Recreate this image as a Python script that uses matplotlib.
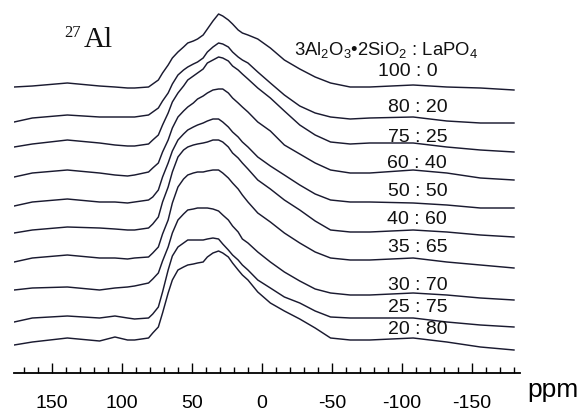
import numpy as np
import matplotlib
matplotlib.use('Agg')
from matplotlib import pyplot as plt
from matplotlib.ticker import MultipleLocator

plt.rcParams['axes.unicode_minus'] = False
plt.rcParams['mathtext.fontset'] = 'custom'
plt.rcParams['mathtext.rm'] = 'Liberation Sans'
plt.rcParams['mathtext.it'] = 'Liberation Sans'

# chemical shift grid (ppm)
ppm = [177, 164, 139, 116, 105, 96, 91,
       81, 78, 74, 71, 67, 64, 60, 56, 53, 49,
       46, 42, 39, 35, 31, 28, 24, 21, 17, 14,
       10, 3, -6, -16, -27, -38, -49, -63, -77,
       -108, -132, -156, -180]

# intensities above each trace's baseline, top trace first
s_100_0 = [1, 2, 5, 2, 1, 0, 0,
           1, 4, 8, 15, 23, 30, 36, 41, 45, 47,
           49, 53, 59, 67, 74, 72, 68, 64, 58, 55,
           53, 49, 40, 28, 19, 11, 5, 1, 1,
           3, 1, 0, -2]
s_80_20 = [-1, 3, 6, 4, 4, 4, 4,
           6, 9, 13, 20, 28, 37, 46, 51, 54, 57,
           59, 63, 69, 74, 78, 77, 74, 69, 64, 61,
           58, 49, 38, 26, 15, 8, 4, 2, 3,
           4, 0, -2, -2]
s_75_25 = [0, 3, 7, 4, 2, 1, 1,
           3, 7, 12, 22, 34, 45, 54, 61, 67, 71,
           74, 78, 84, 87, 90, 89, 86, 81, 77, 73,
           68, 59, 49, 36, 22, 12, 5, 3, 4,
           4, 0, -3, -5]
s_60_40 = [0, 4, 7, 4, 2, 1, 2,
           5, 9, 14, 25, 37, 49, 60, 66, 70, 74,
           78, 81, 84, 87, 88, 88, 84, 79, 74, 70,
           65, 55, 46, 32, 23, 14, 7, 4, 4,
           7, 4, -1, -3]
s_50_50 = [0, 4, 7, 4, 4, 3, 4,
           6, 9, 16, 29, 43, 55, 66, 72, 76, 79,
           81, 83, 85, 87, 87, 84, 79, 74, 69, 64,
           59, 49, 40, 31, 21, 12, 6, 4, 4,
           3, 1, -2, -2]
s_40_60 = [0, 3, 6, 5, 4, 3, 3,
           5, 9, 16, 31, 46, 61, 76, 83, 86, 88,
           89, 90, 91, 93, 93, 91, 86, 80, 75, 70,
           64, 53, 44, 33, 23, 12, 3, 1, 1,
           3, 1, -2, -4]
s_35_65 = [0, 4, 7, 4, 4, 3, 4,
           5, 9, 15, 28, 42, 59, 75, 83, 87, 89,
           90, 90, 91, 92, 92, 89, 84, 79, 73, 67,
           60, 49, 40, 29, 19, 10, 4, 2, 2,
           4, 0, -3, -6]
s_30_70 = [0, 2, 3, 0, 2, 3, 4,
           7, 11, 17, 29, 43, 57, 70, 76, 80, 81,
           82, 82, 82, 81, 79, 75, 70, 64, 58, 51,
           47, 38, 28, 18, 9, 1, -3, -5, -5,
           -3, -5, -8, -10]
s_25_75 = [0, 4, 6, 4, 6, 4, 3,
           4, 8, 15, 30, 52, 66, 75, 79, 82, 82,
           82, 82, 83, 84, 83, 78, 72, 67, 62, 57,
           52, 42, 34, 25, 19, 11, 5, 4, 4,
           4, 0, -3, -5]
s_20_80 = [0, 3, 7, 4, 8, 5, 5,
           7, 12, 18, 32, 52, 65, 75, 78, 80, 81,
           82, 83, 88, 92, 94, 92, 88, 82, 75, 70,
           65, 53, 42, 34, 26, 17, 7, 5, 5,
           7, 3, -2, -5]

spectra = [s_100_0, s_80_20, s_75_25, s_60_40, s_50_50,
           s_40_60, s_35_65, s_30_70, s_25_75, s_20_80]
ratios = ['100 : 0', '80 : 20', '75 : 25', '60 : 40', '50 : 50',
          '40 : 60', '35 : 65', '30 : 70', '25 : 75', '20 : 80']
offsets = [285, 252, 226, 196, 167, 140, 111, 83, 51, 28]
label_y = [301, 265, 236, 210, 181, 153, 125, 88, 66, 43]

fig = plt.figure(figsize=(5.83, 4.13), dpi=100)
ax = fig.add_axes([14 / 583, 40 / 413, 506 / 583, 373 / 413])

for s, off in zip(spectra, offsets):
    ax.plot(ppm, np.array(s) + off, color='#1a1a30', lw=1.05)

for lab, ly in zip(ratios, label_y):
    xpos = -104 if lab == '100 : 0' else -111
    ax.text(xpos, ly, lab, ha='center', va='center', fontsize=14,
            family='Liberation Sans', color='#111111')

ax.text(-88.5, 323, r'3Al$_2$O$_3$•2SiO$_2$ : LaPO$_4$', ha='center', va='center',
        fontsize=13.3, family='Liberation Sans', color='#111111')
ax.text(141.5, 336, '27', ha='left', va='baseline', fontsize=12,
        family='Liberation Serif', color='#111111')
ax.text(127, 326, 'Al', ha='left', va='baseline', fontsize=21,
        family='Liberation Serif', color='#111111')

ax.set_xlim(177.1, -184.3)
ax.set_ylim(0, 373)
ax.xaxis.set_major_locator(MultipleLocator(50))
ax.xaxis.set_minor_locator(MultipleLocator(10))
ax.tick_params(axis='x', which='major', direction='in', length=7, width=1.0,
               pad=16, labelsize=14, labelfontfamily='Liberation Sans')
ax.tick_params(axis='x', which='minor', direction='in', length=4, width=1.0)
ax.set_yticks([])
for side in ['left', 'top', 'right']:
    ax.spines[side].set_visible(False)
ax.spines['bottom'].set_linewidth(1.3)

fig.text(553 / 583, 1 - 390 / 413, 'ppm', ha='center', va='center', fontsize=19,
         family='Liberation Sans')

fig.savefig('out.png', dpi=100)
